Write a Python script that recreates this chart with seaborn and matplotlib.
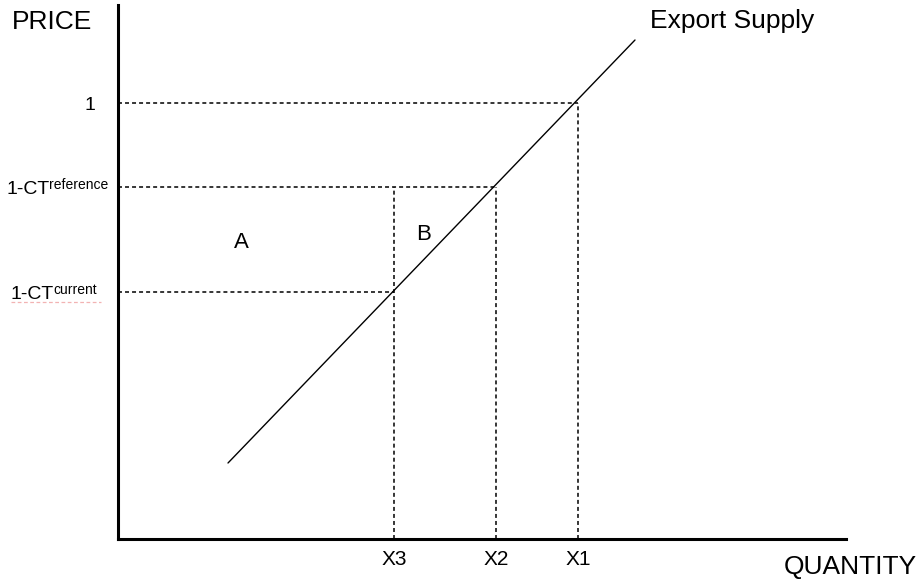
import matplotlib
matplotlib.use("Agg")
import matplotlib.pyplot as plt
import matplotlib.transforms as mtransforms
import seaborn as sns

# export supply curve end points (quantity, price)
supply_q = [110, 517]
supply_p = [76, 499]

# price levels
price_base = ["1", "1-CT", "1-CT"]
price_sup = ["", "reference", "current"]
price_vals = [436, 352, 247]

# quantities at those prices
qty_names = ["X1", "X2", "X3"]
qty_vals = [460, 378, 276]
# how high each vertical dashed line goes
qty_tops = [436, 352, 352]

# area labels
area_names = ["A", "B"]
area_q = [123, 306]
area_p = [291, 299]

sns.set_style("white")
plt.rcParams["font.family"] = ["Liberation Sans", "DejaVu Sans"]
plt.rcParams["text.color"] = "black"
plt.rcParams["xtick.color"] = "black"

fig = plt.figure(figsize=(9.2, 5.83), dpi=100)
ax = fig.add_axes([118 / 920, 44 / 583, 728 / 920, 534 / 583])

# supply line
sns.lineplot(x=supply_q, y=supply_p, color="black", linewidth=1.0, ax=ax)

# dashed guides
dash = (0, (2.6, 2.0))
ax.hlines(price_vals, 0, qty_vals, colors="black", linewidth=1.1, linestyles=[dash])
ax.vlines(qty_vals, 0, qty_tops, colors="black", linewidth=1.1, linestyles=[dash])

ax.set_xlim(0, 728)
ax.set_ylim(0, 534)

for s in ["top", "right"]:
    ax.spines[s].set_visible(False)
for s in ["left", "bottom"]:
    ax.spines[s].set_linewidth(2.2)
    ax.spines[s].set_color("black")

ax.set_xticks(qty_vals)
ax.set_xticklabels(qty_names, fontsize=15, color="black")
ax.tick_params(axis="x", length=0, pad=8)
ax.set_yticks([])

# price labels on the left, with a small raised suffix
trans = mtransforms.blended_transform_factory(fig.transFigure, ax.transData)
label_x = [85 / 920, 7 / 920, 11 / 920]
for base, sup, yv, xv in zip(price_base, price_sup, price_vals, label_x):
    t = ax.text(xv, yv - 7, base, transform=trans, fontsize=14,
                ha="left", va="baseline", color="black")
    if sup:
        ax.annotate(sup, xy=(1, 0), xycoords=t, xytext=(-0.8, 6.2),
                    textcoords="offset points", fontsize=10,
                    ha="left", va="baseline", color="black")

# little spell-check squiggle under the current label
fig.add_artist(plt.Line2D([11 / 920, 101 / 920], [(583 - 302) / 583] * 2,
                          color="#f2b3b3", linewidth=0.9, linestyle=(0, (3, 2))))

for name, xv, yv in zip(area_names, area_q, area_p):
    ax.text(xv, yv, name, fontsize=16, ha="center", va="baseline", color="black")

fig.text(12 / 920, (583 - 29) / 583, "PRICE", fontsize=19, ha="left", va="baseline")
fig.text(917 / 920, (583 - 574) / 583, "QUANTITY", fontsize=19, ha="right", va="baseline")
fig.text(650 / 920, (583 - 28) / 583, "Export Supply", fontsize=19, ha="left", va="baseline")

fig.savefig("out.png", dpi=100)
